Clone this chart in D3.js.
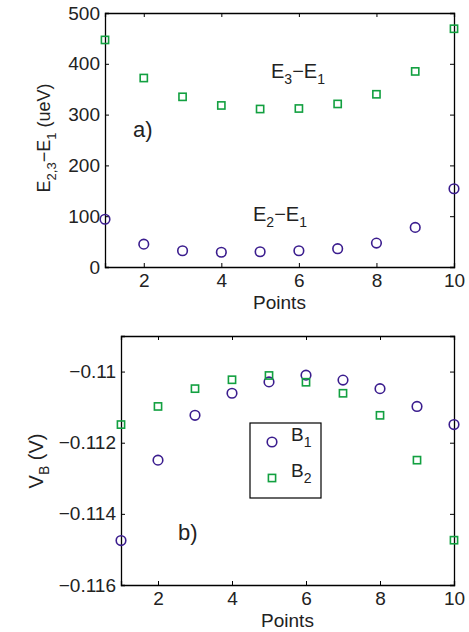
<!DOCTYPE html>
<html>
<head>
  <meta charset="utf-8">
  <script src="https://d3js.org/d3.v7.min.js"></script>
  <style>
    body { margin: 0; background: #fff; }
    svg text { font-family: "Liberation Sans", Arial, sans-serif; fill: #222; }
  </style>
</head>
<body>
<div id="chart"></div>
<script>
  // data
  var points = [1, 2, 3, 4, 5, 6, 7, 8, 9, 10];
  var e3e1 = [447, 372, 335, 318, 311, 312, 321, 340, 385, 469];
  var e2e1 = [94, 45, 32, 29, 30, 32, 36, 47, 78, 154];
  var b1 = [-0.11475, -0.11249, -0.11123, -0.11061, -0.11029, -0.1101, -0.11024, -0.11048, -0.11098, -0.11149];
  var b2 = [-0.11149, -0.11098, -0.11048, -0.11023, -0.11011, -0.1103, -0.11061, -0.11123, -0.11249, -0.11474];
  var xTicks = [2, 4, 6, 8, 10];
  var yTicksA = [0, 100, 200, 300, 400, 500];
  var yTicksB = [-0.116, -0.114, -0.112, -0.11];

  var purple = "#3b1d8e";
  var green = "#12a040";

  var svg = d3.select("#chart").append("svg")
    .attr("width", 469)
    .attr("height", 632);

  function drawFrame(g, x, y, yTicks, yFmt) {
    var w = x.range()[1] - x.range()[0];
    var h = y.range()[0] - y.range()[1];
    g.append("g")
      .attr("transform", "translate(0," + h + ")")
      .call(d3.axisBottom(x).tickValues(xTicks).tickSize(-4).tickPadding(7).tickFormat(d3.format("d")));
    g.append("g")
      .call(d3.axisTop(x).tickValues(xTicks).tickSize(-4).tickFormat(""));
    g.append("g")
      .call(d3.axisLeft(y).tickValues(yTicks).tickSize(-4).tickPadding(5).tickFormat(yFmt));
    g.append("g")
      .attr("transform", "translate(" + w + ",0)")
      .call(d3.axisRight(y).tickValues(yTicks).tickSize(-4).tickFormat(""));
    g.selectAll(".domain").attr("stroke", "#000").attr("stroke-width", 1.3);
    g.selectAll(".tick line").attr("stroke", "#000");
    g.selectAll(".tick text").style("font-size", "19px")
      .style("font-family", "Liberation Sans, Arial, sans-serif").attr("fill", "#222");
  }

  function circles(g, x, y, vals) {
    g.selectAll(null).data(vals).enter().append("circle")
      .attr("cx", function(d, i) { return x(points[i]); })
      .attr("cy", function(d) { return y(d); })
      .attr("r", 4.8)
      .attr("fill", "none")
      .attr("stroke", purple)
      .attr("stroke-width", 1.6);
  }

  function squares(g, x, y, vals) {
    g.selectAll(null).data(vals).enter().append("rect")
      .attr("x", function(d, i) { return x(points[i]) - 3.6; })
      .attr("y", function(d) { return y(d) - 3.6; })
      .attr("width", 7.2)
      .attr("height", 7.2)
      .attr("fill", "none")
      .attr("stroke", green)
      .attr("stroke-width", 1.6);
  }

  function subText(sel, parts, big, small) {
    // parts: [text, isSub]
    sel.style("font-size", big + "px");
    var down = false;
    parts.forEach(function(p) {
      var t = sel.append("tspan").text(p[0]);
      if (p[1] && !down) { t.attr("dy", 6).style("font-size", small + "px"); down = true; }
      else if (p[1]) { t.style("font-size", small + "px"); }
      else if (down) { t.attr("dy", -6); down = false; }
    });
  }

  // panel a
  var xa = d3.scaleLinear().domain([1, 10]).range([0, 349]);
  var ya = d3.scaleLinear().domain([0, 500]).range([254, 0]);
  var ga = svg.append("g").attr("transform", "translate(105,13)");
  drawFrame(ga, xa, ya, yTicksA, d3.format("d"));
  squares(ga, xa, ya, e3e1);
  circles(ga, xa, ya, e2e1);

  ga.append("text").attr("x", 28).attr("y", 124).style("font-size", "22px").text("a)");

  subText(ga.append("text").attr("x", 166).attr("y", 65),
    [["E", 0], ["3", 1], ["\u2212E", 0], ["1", 1]], 20, 14);
  subText(ga.append("text").attr("x", 148).attr("y", 208),
    [["E", 0], ["2", 1], ["\u2212E", 0], ["1", 1]], 20, 14);

  ga.append("text").attr("x", 174.5).attr("y", 296).attr("text-anchor", "middle")
    .style("font-size", "19px").text("Points");

  subText(svg.append("text")
    .attr("transform", "translate(50,138) rotate(-90)")
    .attr("text-anchor", "middle"),
    [["E", 0], ["2,3", 1], ["\u2212E", 0], ["1", 1], [" (ueV)", 0]], 18, 13);

  // panel b
  var xb = d3.scaleLinear().domain([1, 10]).range([0, 333]);
  var yb = d3.scaleLinear().domain([-0.116, -0.109]).range([249, 0]);
  var gb = svg.append("g").attr("transform", "translate(121,336)");
  drawFrame(gb, xb, yb, yTicksB, function(d) { return d3.format("")(d).replace("-", "\u2212"); });
  circles(gb, xb, yb, b1);
  squares(gb, xb, yb, b2);

  gb.append("text").attr("x", 57).attr("y", 204).style("font-size", "22px").text("b)");

  gb.append("text").attr("x", 166.5).attr("y", 291).attr("text-anchor", "middle")
    .style("font-size", "19px").text("Points");

  subText(svg.append("text")
    .attr("transform", "translate(43,461) rotate(-90)")
    .attr("text-anchor", "middle"),
    [["V", 0], ["B", 1], [" (V)", 0]], 20, 14);

  // legend
  var lg = svg.append("g").attr("transform", "translate(250,423)");
  lg.append("rect").attr("width", 71).attr("height", 75)
    .attr("fill", "#fff").attr("stroke", "#000").attr("stroke-width", 1.2);
  lg.append("circle").attr("cx", 22).attr("cy", 19).attr("r", 4.8)
    .attr("fill", "none").attr("stroke", purple).attr("stroke-width", 1.6);
  lg.append("rect").attr("x", 18.4).attr("y", 51.4).attr("width", 7.2).attr("height", 7.2)
    .attr("fill", "none").attr("stroke", green).attr("stroke-width", 1.6);
  subText(lg.append("text").attr("x", 41).attr("y", 18), [["B", 0], ["1", 1]], 19, 14);
  subText(lg.append("text").attr("x", 41).attr("y", 54), [["B", 0], ["2", 1]], 19, 14);
</script>
</body>
</html>
